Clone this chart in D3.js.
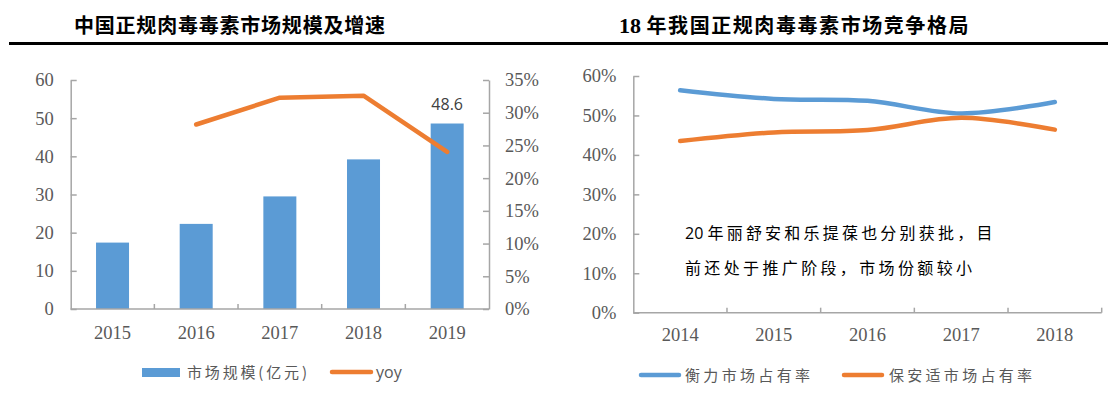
<!DOCTYPE html>
<html><head><meta charset="utf-8">
<script src="https://cdnjs.cloudflare.com/ajax/libs/d3/7.8.5/d3.min.js"></script>
<style>body{margin:0;background:#fff}svg{display:block}</style>
</head><body>
<svg id="c" width="1108" height="400"></svg>
<script>
// Left chart data
const years1 = ["2015","2016","2017","2018","2019"];
const marketSize = [17.4, 22.3, 29.5, 39.2, 48.6];
const yoyYears = ["2016","2017","2018","2019"];
const yoy = [0.282, 0.323, 0.326, 0.240];
const leftTicks = [0,10,20,30,40,50,60];
const rightTicks = [0,0.05,0.10,0.15,0.20,0.25,0.30,0.35];
// Right chart data
const years2 = ["2014","2015","2016","2017","2018"];
const hengli = [0.564, 0.542, 0.537, 0.505, 0.534];
const botox = [0.435, 0.457, 0.463, 0.494, 0.464];
const shareTicks = [0,0.1,0.2,0.3,0.4,0.5,0.6];

const BLUE="#5b9bd5", ORANGE="#ed7d31", AX="#a6a6a6", TXT="#595959";
const serif="'Liberation Serif','DejaVu Serif',serif";
const cjk="'Noto Sans CJK SC','Noto Sans',sans-serif";
const sans="'Open Sans','Liberation Sans',sans-serif";
const TF=18.5;

const svg=d3.select("#c");

// Title rule
svg.append("rect").attr("x",9).attr("y",42).attr("width",1099).attr("height",3).attr("fill","#000");
svg.append("text").attr("x",74).attr("y",33).attr("font-family",cjk).attr("font-weight","bold")
  .attr("font-size",20).attr("fill","#000").attr("textLength",311).text("中国正规肉毒毒素市场规模及增速");
const t2=svg.append("text").attr("x",619).attr("y",33).attr("font-weight","bold").attr("font-size",20).attr("fill","#000");
t2.append("tspan").attr("font-family",serif).attr("font-size",22).text("18 ");
t2.append("tspan").attr("font-family",cjk).attr("textLength",322).text("年我国正规肉毒毒素市场竞争格局");

// ---------- Left chart ----------
const xb1=d3.scaleBand().domain(years1).range([70.7,489]);
const y1=d3.scaleLinear().domain([0,60]).range([309,80]);
const y1r=d3.scaleLinear().domain([0,0.35]).range([309,80]);

const gL=svg.append("g");
gL.selectAll("rect.bar").data(years1).enter().append("rect")
  .attr("x",d=>xb1(d)+xb1.bandwidth()/2-16.5).attr("width",33)
  .attr("y",(d,i)=>y1(marketSize[i])).attr("height",(d,i)=>y1(0)-y1(marketSize[i]))
  .attr("fill",BLUE);

function styleAxis(g){
  g.selectAll("path.domain").attr("stroke",AX).attr("stroke-width",1.5);
  g.selectAll(".tick line").attr("stroke",AX).attr("stroke-width",1.5);
  g.selectAll("text").attr("fill",TXT).attr("font-family",serif).attr("font-size",TF);
}
const ayl=gL.append("g").attr("transform","translate(70.7,0)")
  .call(d3.axisLeft(y1).tickValues(leftTicks).tickSize(-6).tickPadding(17).tickSizeOuter(0));
styleAxis(ayl);
const ayr=gL.append("g").attr("transform","translate(489,0)")
  .call(d3.axisRight(y1r).tickValues(rightTicks).tickFormat(d3.format(".0%")).tickSize(-6).tickPadding(16).tickSizeOuter(0));
styleAxis(ayr);
const axl=gL.append("g").attr("transform","translate(0,309)");
axl.append("line").attr("x1",70.7).attr("x2",489).attr("stroke",AX).attr("stroke-width",1.5);
axl.selectAll("line.t").data(years1.slice(1)).enter().append("line")
  .attr("x1",d=>xb1(d)).attr("x2",d=>xb1(d)).attr("y1",0).attr("y2",-5).attr("stroke",AX).attr("stroke-width",1.5);
axl.selectAll("text").data(years1).enter().append("text")
  .attr("x",d=>xb1(d)+xb1.bandwidth()/2).attr("y",30).attr("text-anchor","middle")
  .attr("fill",TXT).attr("font-family",serif).attr("font-size",TF).text(d=>d);

const lineL=d3.line().x(d=>xb1(d[0])+xb1.bandwidth()/2).y(d=>y1r(d[1]));
gL.append("path").datum(yoyYears.map((d,i)=>[d,yoy[i]])).attr("d",lineL)
  .attr("fill","none").attr("stroke",ORANGE).attr("stroke-width",4.5).attr("stroke-linecap","round").attr("stroke-linejoin","round");
gL.append("text").attr("x",xb1("2019")+xb1.bandwidth()/2).attr("y",y1(48.6)-14).attr("text-anchor","middle")
  .attr("font-family",sans).attr("font-size",16).attr("fill","#404040").text("48.6");

// left legend
svg.append("rect").attr("x",142).attr("y",368).attr("width",38).attr("height",9).attr("fill",BLUE);
svg.append("text").attr("x",187).attr("y",378).attr("font-family",cjk).attr("font-size",15).attr("fill",TXT)
  .attr("textLength",120).text("市场规模(亿元)");
svg.append("line").attr("x1",332).attr("x2",371).attr("y1",372).attr("y2",372).attr("stroke",ORANGE).attr("stroke-width",4.5).attr("stroke-linecap","round");
svg.append("text").attr("x",376).attr("y",378).attr("font-family",sans).attr("font-size",16).attr("fill",TXT).text("yoy");

// ---------- Right chart ----------
const x2=d3.scaleBand().domain(years2).range([633.3,1101.7]);
const y2=d3.scaleLinear().domain([0,0.6]).range([312.7,76]);
const gR=svg.append("g");
const ayR=gR.append("g").attr("transform","translate(633.3,0)")
  .call(d3.axisLeft(y2).tickValues(shareTicks).tickFormat(d3.format(".0%")).tickSize(-6).tickPadding(17).tickSizeOuter(0));
styleAxis(ayR);
const axR=gR.append("g").attr("transform","translate(0,312.7)");
axR.append("line").attr("x1",633.3).attr("x2",1101.7).attr("stroke",AX).attr("stroke-width",1.5);
axR.selectAll("line.t").data(years2.slice(1).concat(["end"])).enter().append("line")
  .attr("x1",d=>d==="end"?1101.7:x2(d)).attr("x2",d=>d==="end"?1101.7:x2(d)).attr("y1",0).attr("y2",-5).attr("stroke",AX).attr("stroke-width",1.5);
axR.selectAll("text").data(years2).enter().append("text")
  .attr("x",d=>x2(d)+x2.bandwidth()/2).attr("y",28).attr("text-anchor","middle")
  .attr("fill",TXT).attr("font-family",serif).attr("font-size",TF).text(d=>d);

const lineR=d3.line().x(d=>x2(d[0])+x2.bandwidth()/2).y(d=>y2(d[1])).curve(d3.curveCatmullRom.alpha(0.5));
[[hengli,BLUE],[botox,ORANGE]].forEach(([vals,col])=>{
  gR.append("path").datum(years2.map((d,i)=>[d,vals[i]])).attr("d",lineR)
    .attr("fill","none").attr("stroke",col).attr("stroke-width",4.5).attr("stroke-linecap","round").attr("stroke-linejoin","round");
});

// annotation
const ann1=svg.append("text").attr("x",685).attr("y",239).attr("font-size",16).attr("fill","#000");
ann1.append("tspan").attr("font-family",sans).text("20 ");
ann1.append("tspan").attr("font-family",cjk).attr("textLength",285).text("年丽舒安和乐提葆也分别获批，目");
svg.append("text").attr("x",685).attr("y",274).attr("font-size",16).attr("fill","#000").attr("font-family",cjk)
  .attr("textLength",287).text("前还处于推广阶段，市场份额较小");

// right legend
svg.append("line").attr("x1",641).attr("x2",679).attr("y1",375).attr("y2",375).attr("stroke",BLUE).attr("stroke-width",4.5).attr("stroke-linecap","round");
svg.append("text").attr("x",685).attr("y",381).attr("font-family",cjk).attr("font-size",15).attr("fill",TXT)
  .attr("textLength",125).text("衡力市场占有率");
svg.append("line").attr("x1",844).attr("x2",882).attr("y1",375).attr("y2",375).attr("stroke",ORANGE).attr("stroke-width",4.5).attr("stroke-linecap","round");
svg.append("text").attr("x",889).attr("y",381).attr("font-family",cjk).attr("font-size",15).attr("fill",TXT)
  .attr("textLength",143).text("保安适市场占有率");
</script>
</body></html>
